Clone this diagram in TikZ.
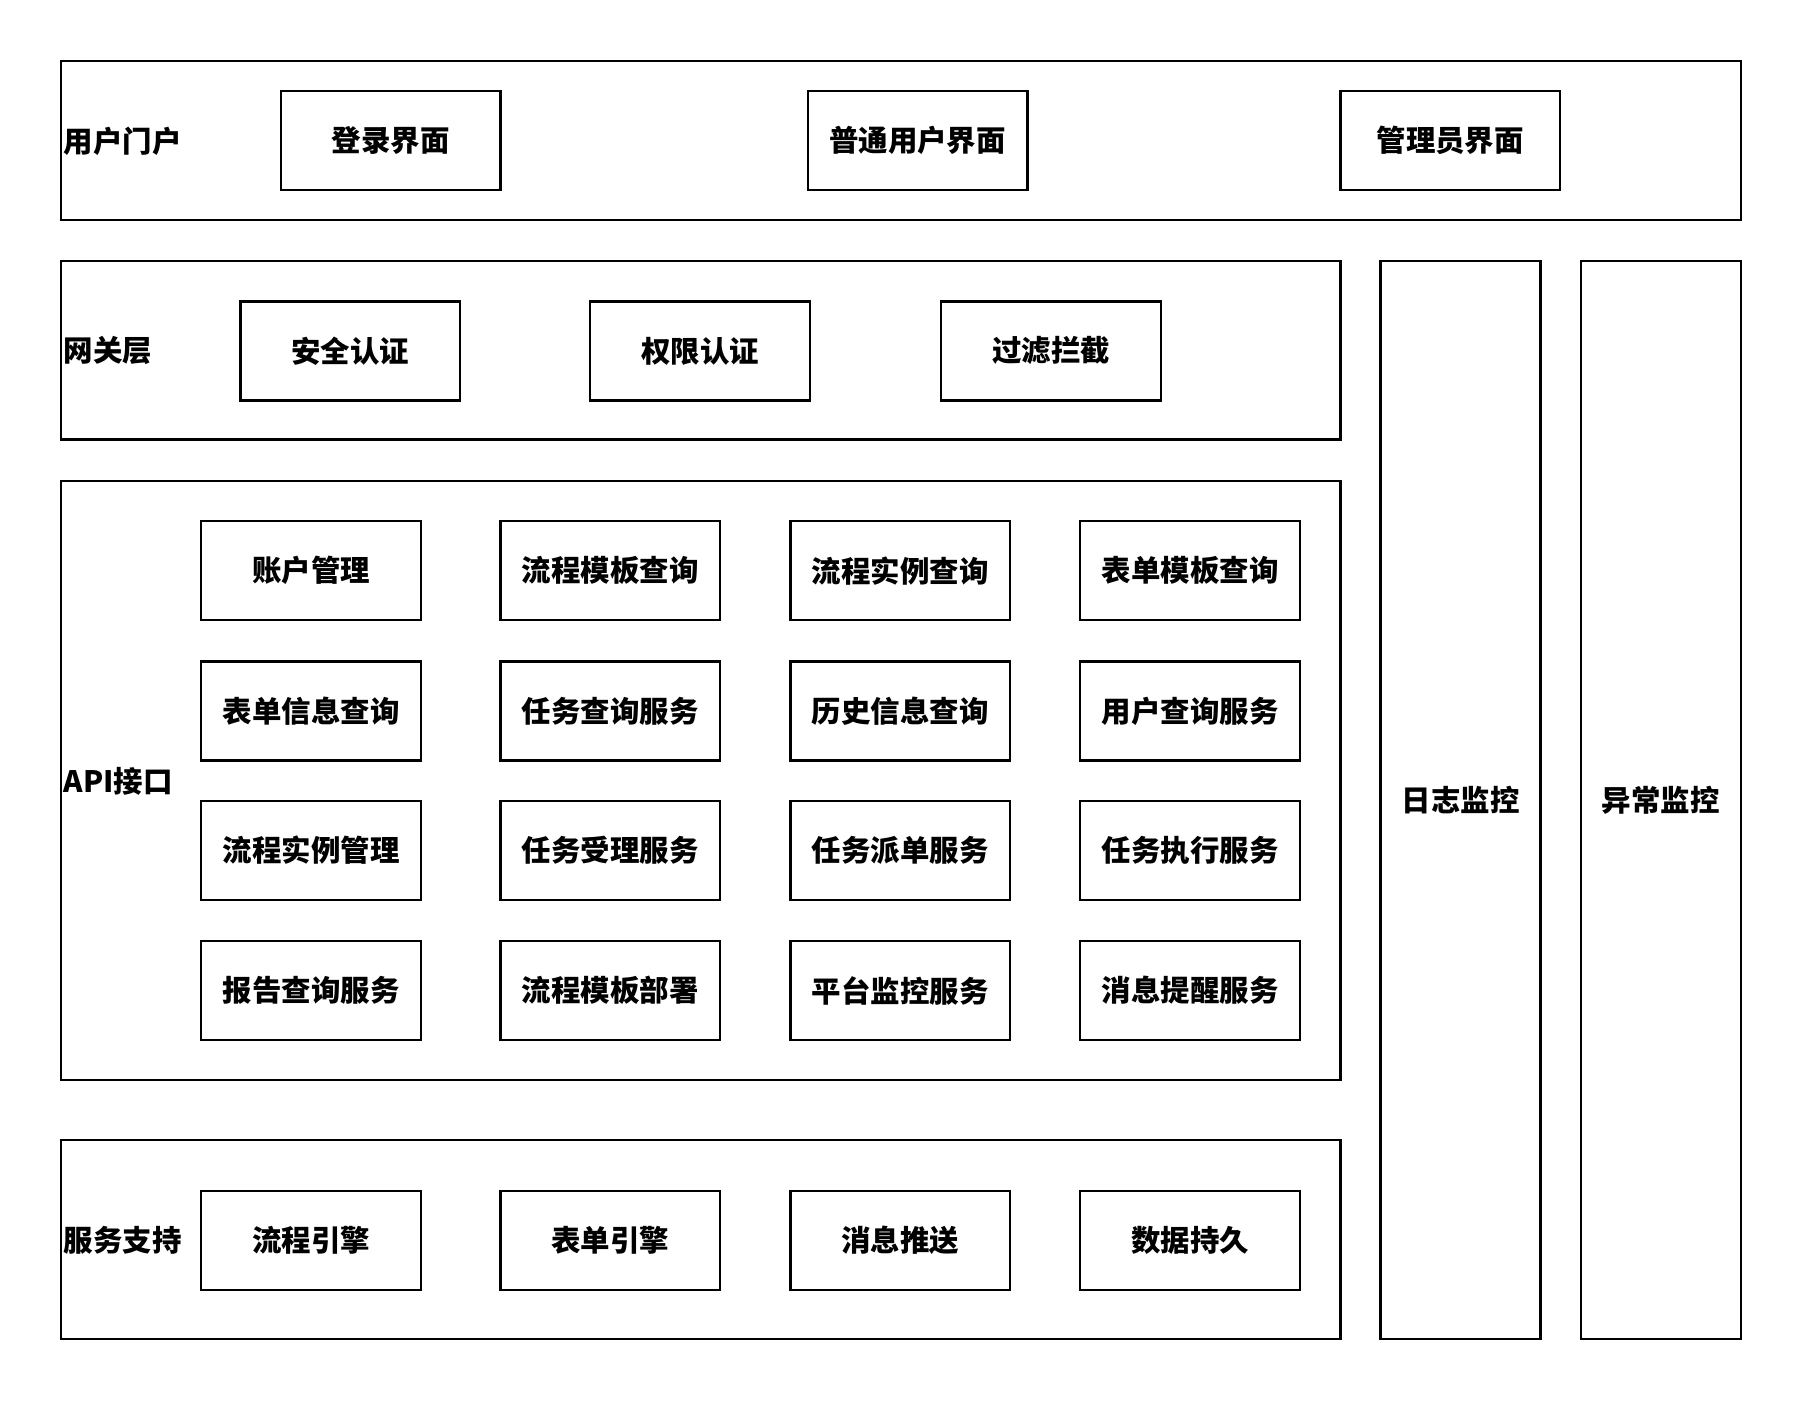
\documentclass[tikz,border=0pt]{standalone}
\usepackage{fontspec}
\setmainfont{Noto Sans CJK SC}
\begin{document}
\begin{tikzpicture}[x=0.5pt,y=-0.5pt,
  box/.style={draw=black,line width=1pt,rectangle,inner sep=0pt,outer sep=0pt},
  layer/.style={box},
  item/.style={box,minimum width=95.5pt,minimum height=43pt,font=\fontsize{12.8pt}{15pt}\selectfont\bfseries},
  vlabel/.style={box,minimum width=69.5pt,minimum height=468.5pt,font=\fontsize{12.8pt}{15pt}\selectfont\bfseries},
  lbl/.style={inner sep=0pt,anchor=west,font=\fontsize{12.8pt}{15pt}\selectfont\bfseries}]
\useasboundingbox (0,0) rectangle (1568,1220.3);
% layers
\node[layer,minimum width=730pt,minimum height=69pt] (portal) at (783,122) {};
\node[layer,minimum width=556pt,minimum height=77.5pt] (gateway) at (609,304.5) {};
\node[layer,minimum width=556pt,minimum height=260.5pt] (api) at (609,678.5) {};
\node[layer,minimum width=556pt,minimum height=86.5pt] (support) at (609,1077.5) {};
\node[vlabel] (log) at (1269.5,695.5) {日志监控};
\node[vlabel] (exc) at (1443.5,695.5) {异常监控};
% layer labels
\node[lbl] (lportal) at (55,123) {用户门户};
\node[lbl] (lgateway) at (55,305) {网关层};
\node[lbl] (lapi) at (55,679) {API接口};
\node[lbl] (lsupport) at (55,1078) {服务支持};
% portal
\node[item] (p1) at (339.5,122) {登录界面};
\node[item] (p2) at (797.5,122) {普通用户界面};
\node[item] (p3) at (1260.5,122) {管理员界面};
% gateway
\node[item] (g1) at (304.5,305) {安全认证};
\node[item] (g2) at (608.5,305) {权限认证};
\node[item] (g3) at (913.5,305) {过滤拦截};
% api
\node[item] (a11) at (270.5,496) {账户管理};
\node[item] (a12) at (530.5,496) {流程模板查询};
\node[item] (a13) at (782.5,496) {流程实例查询};
\node[item] (a14) at (1034.5,496) {表单模板查询};
\node[item] (a21) at (270.5,618) {表单信息查询};
\node[item] (a22) at (530.5,618) {任务查询服务};
\node[item] (a23) at (782.5,618) {历史信息查询};
\node[item] (a24) at (1034.5,618) {用户查询服务};
\node[item] (a31) at (270.5,739) {流程实例管理};
\node[item] (a32) at (530.5,739) {任务受理服务};
\node[item] (a33) at (782.5,739) {任务派单服务};
\node[item] (a34) at (1034.5,739) {任务执行服务};
\node[item] (a41) at (270.5,861) {报告查询服务};
\node[item] (a42) at (530.5,861) {流程模板部署};
\node[item] (a43) at (782.5,861) {平台监控服务};
\node[item] (a44) at (1034.5,861) {消息提醒服务};
% support
\node[item] (s1) at (270.5,1078) {流程引擎};
\node[item] (s2) at (530.5,1078) {表单引擎};
\node[item] (s3) at (782.5,1078) {消息推送};
\node[item] (s4) at (1034.5,1078) {数据持久};
\end{tikzpicture}
\end{document}
